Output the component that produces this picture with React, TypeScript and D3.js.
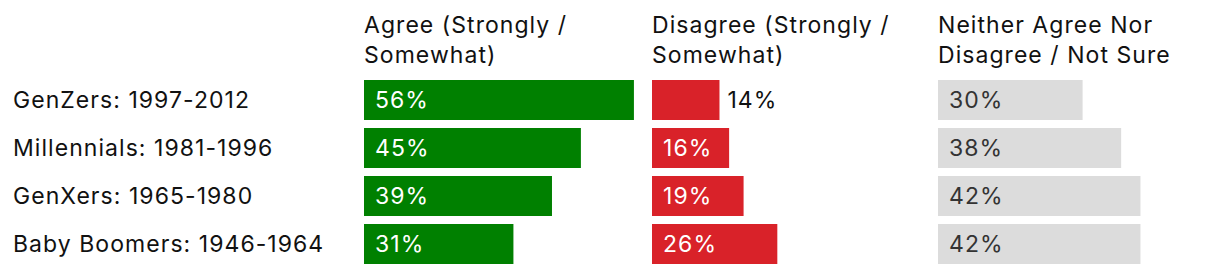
import React from "react";
import * as d3 from "d3";

const categories = [
  "GenZers: 1997-2012",
  "Millennials: 1981-1996",
  "GenXers: 1965-1980",
  "Baby Boomers: 1946-1964",
];
const seriesNames = [
  ["Agree (Strongly /", "Somewhat)"],
  ["Disagree (Strongly /", "Somewhat)"],
  ["Neither Agree Nor", "Disagree / Not Sure"],
];
const agree = [56, 45, 39, 31];
const disagree = [14, 16, 19, 26];
const neither = [30, 38, 42, 42];

const W = 1220;
const H = 274;
const FONT = "Inter, 'Noto Sans', sans-serif";
const FS = 23;
const LS = 1.05;

const columns = [
  { values: agree, x0: 364, fill: "#008000", inside: "#ffffff" },
  { values: disagree, x0: 652, fill: "#d92229", inside: "#ffffff" },
  { values: neither, x0: 938, fill: "#dcdcdc", inside: "#333333" },
];

export default function App() {
  const x = d3.scaleLinear().domain([0, 100]).range([0, 482]);
  const y = d3
    .scaleBand<string>()
    .domain(categories)
    .range([80, 264])
    .paddingInner(8 / 48)
    .paddingOuter(0);
  const bw = y.bandwidth();

  return (
    <svg
      width={W}
      height={H}
      style={{ position: "absolute", left: 0, top: 0, background: "#fff" }}
      fontFamily={FONT}
      fontSize={FS}
      letterSpacing={LS}
    >
      {seriesNames.map((lines, ci) => (
        <text key={ci} x={columns[ci].x0} y={33} fill="#111">
          {lines.map((l, li) => (
            <tspan key={li} x={columns[ci].x0} dy={li === 0 ? 0 : 30}>
              {l}
            </tspan>
          ))}
        </text>
      ))}
      {categories.map((c) => (
        <text
          key={c}
          x={13}
          y={(y(c) as number) + bw / 2}
          dy="0.36em"
          fill="#111"
        >
          {c}
        </text>
      ))}
      {columns.map((col, ci) => (
        <g key={ci} transform={`translate(${col.x0},0)`}>
          {col.values.map((v, i) => {
            const c = categories[i];
            const yy = y(c) as number;
            const w = x(v);
            const outside = w < 70;
            return (
              <g key={c}>
                <rect x={0} y={yy} width={w} height={bw} fill={col.fill} />
                <text
                  x={outside ? w + 8 : 11}
                  y={yy + bw / 2}
                  dy="0.36em"
                  fill={outside ? "#111" : col.inside}
                >
                  {v}%
                </text>
              </g>
            );
          })}
        </g>
      ))}
    </svg>
  );
}
